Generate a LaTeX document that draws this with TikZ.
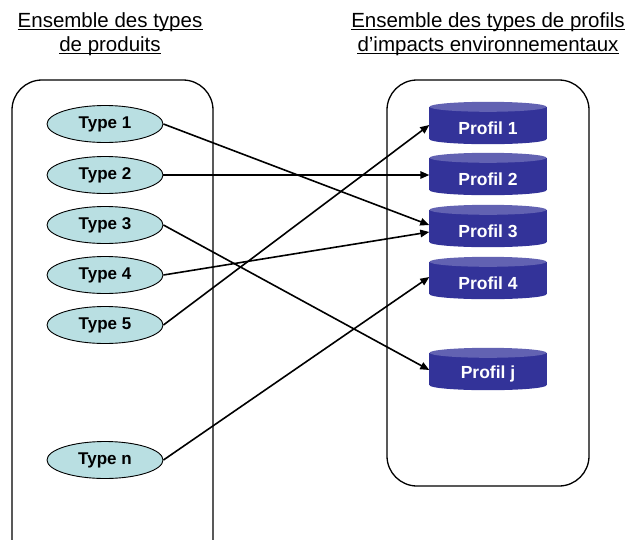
\documentclass[tikz,border=0pt]{standalone}
\usepackage{fontspec}
\setmainfont{Liberation Sans}
\usetikzlibrary{shapes.geometric,arrows.meta,backgrounds,calc}
\definecolor{typefill}{RGB}{185,223,226}
\definecolor{cylbody}{RGB}{51,51,153}
\definecolor{cyltop}{RGB}{98,98,178}
\tikzset{
  setbox/.style={draw=black, line width=1.3pt, rounded corners=30pt},
  hdr/.style={inner sep=0pt, font=\fontsize{20.5}{24}\selectfont},
  uline/.style={draw=black, line width=1.1pt},
  typenode/.style={ellipse, draw=black, line width=0.9pt, fill=typefill,
    minimum width=116pt, minimum height=37pt, inner sep=0pt,
    font=\bfseries\fontsize{17}{20}\selectfont},
  profnode/.style={rectangle, minimum width=117pt, minimum height=32pt, inner sep=0pt,
    text=white, font=\bfseries\fontsize{17.5}{20}\selectfont},
  conn/.style={draw=black, line width=1.6pt, -{Triangle[length=9pt,width=7.5pt]}}
}
\begin{document}
\begin{tikzpicture}[x=1pt,y=-1pt]
\useasboundingbox (0,0) rectangle (627,539);
\clip (0,0) rectangle (627,539);
% set boxes
\draw[setbox] (12,80) rectangle (213,570);
\draw[setbox] (387,80) rectangle (589,486);
% headers
\node[hdr, anchor=base] (h1a) at (110,27) {Ensemble des types};
\node[hdr, anchor=base] (h1b) at (110,51) {de produits};
\node[hdr, anchor=base] (h2a) at (488,27) {Ensemble des types de profils};
\node[hdr, anchor=base] (h2b) at (488,51) {d’impacts environnementaux};
\foreach \h in {h1a,h1b,h2a,h2b}{
  \draw[uline] ([yshift=-2.5pt]\h.base west) -- ([yshift=-2.5pt]\h.base east);
}
% product types
\node[typenode] (t1) at (105,124) {Type 1};
\node[typenode] (t2) at (105,175) {Type 2};
\node[typenode] (t3) at (105,225) {Type 3};
\node[typenode] (t4) at (105,275) {Type 4};
\node[typenode] (t5) at (105,325) {Type 5};
\node[typenode] (tn) at (105,460) {Type n};
% profiles
\node[profnode] (p1) at (488,128) {Profil 1};
\node[profnode] (p2) at (488,179) {Profil 2};
\node[profnode] (p3) at (488,231) {Profil 3};
\node[profnode] (p4) at (488,283) {Profil 4};
\node[profnode] (pj) at (488,374) {Profil j};
\begin{scope}[on background layer]
\fill[white] (0,0) rectangle (627,539);
\foreach \p in {p1,p2,p3,p4,pj}{
  \fill[cylbody] ($(\p.north west)+(0,-5)$) rectangle ($(\p.south east)+(0,-5)$);
  \fill[cylbody] ($(\p.south)+(0,-5)$) ellipse [x radius=58.5, y radius=5];
  \fill[cyltop] ($(\p.north)+(0,-5)$) ellipse [x radius=58.5, y radius=5];
}
\end{scope}
% connectors
\draw[conn] (t1.east) -- ([yshift=6pt]p3.west);
\draw[conn] (t2.east) -- ([yshift=4pt]p2.west);
\draw[conn] (t3.east) -- ([yshift=4pt]pj.west);
\draw[conn] (t4.east) -- ([yshift=-1pt]p3.west);
\draw[conn] (t5.east) -- ([yshift=3pt]p1.west);
\draw[conn] (tn.east) -- ([yshift=6pt]p4.west);
\end{tikzpicture}
\end{document}
